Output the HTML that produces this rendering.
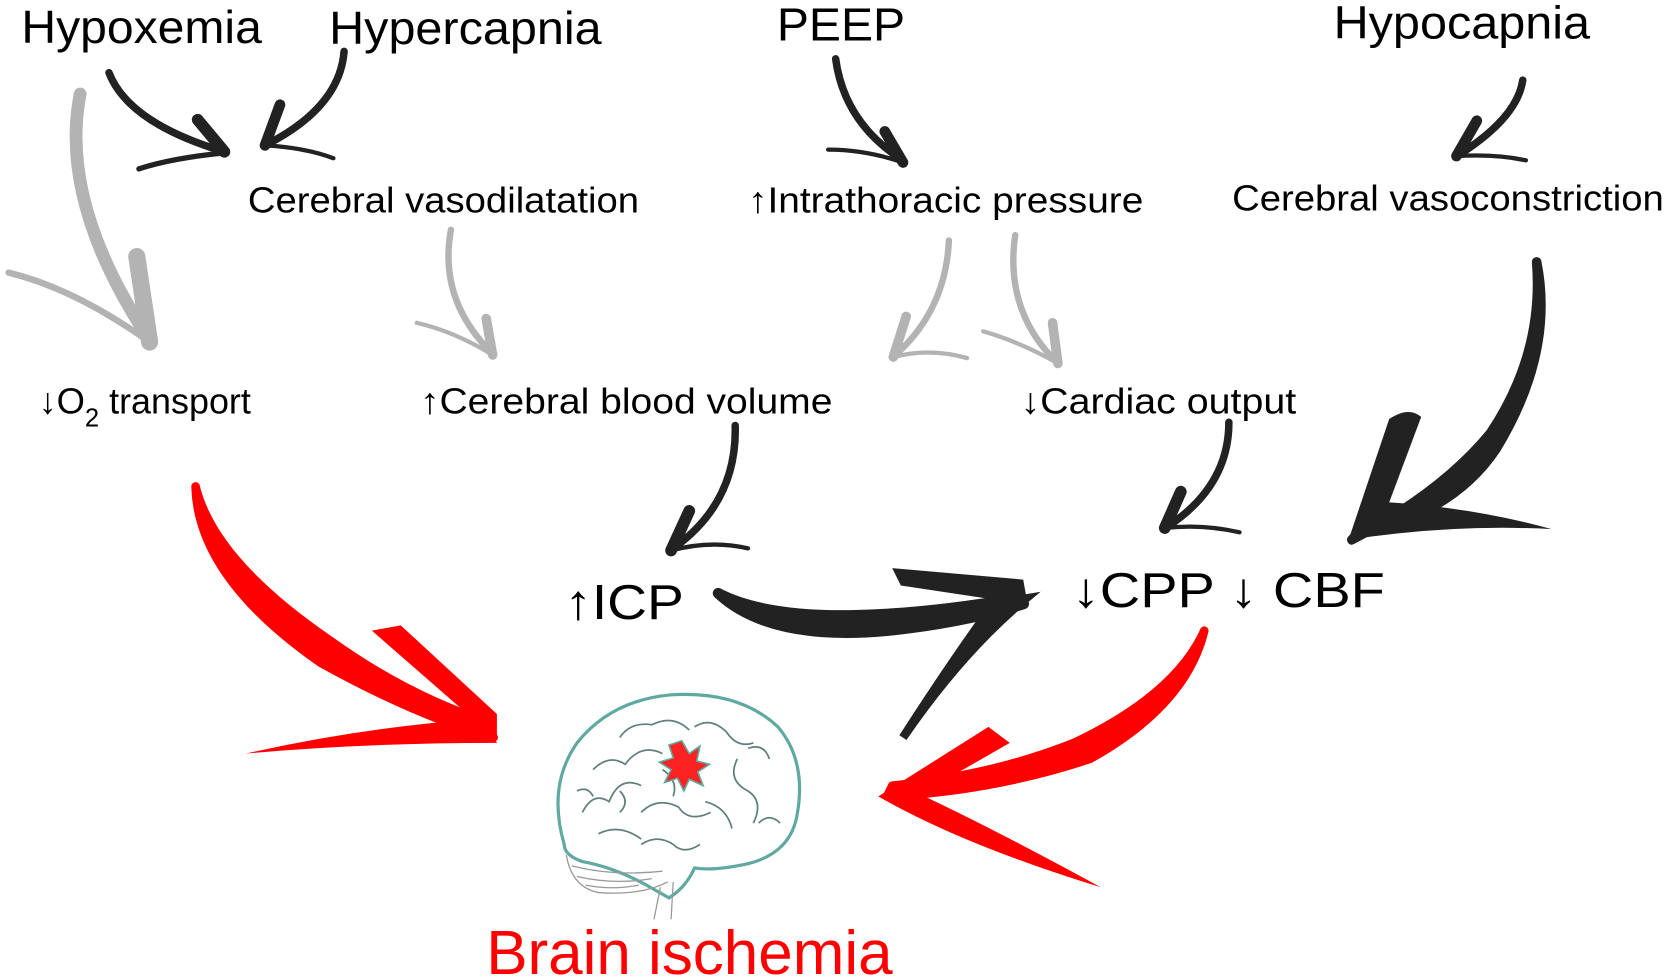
<!DOCTYPE html>
<html><head><meta charset="utf-8"><style>
html,body{margin:0;padding:0;background:#fff;}
svg{display:block}
text{font-family:"Liberation Sans",Arial,sans-serif;}
</style></head><body>
<svg width="1667" height="977" viewBox="0 0 1560 914" preserveAspectRatio="none" xmlns="http://www.w3.org/2000/svg">
<rect width="1560" height="914" fill="#fff"/>
<g fill="#000">
<text x="20" y="40" font-size="43" textLength="225" lengthAdjust="spacingAndGlyphs">Hypoxemia</text>
<text x="308" y="41" font-size="43" textLength="255" lengthAdjust="spacingAndGlyphs">Hypercapnia</text>
<text x="727" y="38" font-size="43" textLength="120" lengthAdjust="spacingAndGlyphs">PEEP</text>
<text x="1248" y="36" font-size="43" textLength="240" lengthAdjust="spacingAndGlyphs">Hypocapnia</text>
<text x="232" y="199" font-size="34" textLength="366" lengthAdjust="spacingAndGlyphs">Cerebral vasodilatation</text>
<text x="700" y="199" font-size="34" textLength="370" lengthAdjust="spacingAndGlyphs">↑Intrathoracic pressure</text>
<text x="1153" y="197" font-size="34" textLength="404" lengthAdjust="spacingAndGlyphs">Cerebral vasoconstriction</text>
<text x="36" y="387" font-size="34">↓O<tspan font-size="24" dy="12">2</tspan><tspan dy="-12" textLength="142" lengthAdjust="spacingAndGlyphs"> transport</tspan></text>
<text x="393" y="387" font-size="34" textLength="386" lengthAdjust="spacingAndGlyphs">↑Cerebral blood volume</text>
<text x="955" y="387" font-size="34" textLength="258" lengthAdjust="spacingAndGlyphs">↓Cardiac output</text>
<text x="528" y="579" font-size="46" textLength="112" lengthAdjust="spacingAndGlyphs">↑ICP</text>
<text x="1003" y="568" font-size="46" textLength="293" lengthAdjust="spacingAndGlyphs">↓CPP ↓ CBF</text>
</g>
<text x="455" y="911" font-size="58" fill="#f00">Brain ischemia</text>

<g fill="none" stroke="#222" stroke-linecap="round" stroke-linejoin="round">
<path d="M102 68 Q120 115 210 142" stroke-width="7"/>
<path d="M210 142 L185 112" stroke-width="11"/>
<path d="M210 143 Q160 148 130 158" stroke-width="5"/>
<path d="M322 48 Q318 100 250 135" stroke-width="7"/>
<path d="M248 136 L262 98" stroke-width="10"/>
<path d="M248 136 Q285 138 312 148" stroke-width="4"/>
<path d="M782 55 Q790 115 845 150" stroke-width="7"/>
<path d="M845 152 L828 123" stroke-width="10"/>
<path d="M845 152 Q810 140 775 140" stroke-width="4"/>
<path d="M1425 75 Q1420 110 1365 145" stroke-width="7"/>
<path d="M1363 146 L1382 113" stroke-width="10"/>
<path d="M1363 146 Q1400 144 1428 150" stroke-width="4"/>
<path d="M688 398 Q690 470 630 513" stroke-width="7"/>
<path d="M628 515 L645 478" stroke-width="11"/>
<path d="M628 515 Q665 505 700 513" stroke-width="4"/>
<path d="M1150 395 Q1150 455 1092 493" stroke-width="7"/>
<path d="M1090 494 L1105 460" stroke-width="11"/>
<path d="M1090 494 Q1125 490 1160 498" stroke-width="4"/>
</g>
<g fill="none" stroke="#b3b3b3" stroke-linecap="round">
<path d="M75 88 Q55 190 140 318" stroke-width="12"/>
<path d="M140 320 L128 240" stroke-width="16"/>
<path d="M140 320 Q70 270 8 255" stroke-width="6"/>
<path d="M422 215 Q410 280 460 330" stroke-width="6"/>
<path d="M461 332 L455 298" stroke-width="9"/>
<path d="M461 332 Q425 310 390 302" stroke-width="4"/>
<path d="M888 225 Q885 290 838 332" stroke-width="6"/>
<path d="M836 334 L848 296" stroke-width="9"/>
<path d="M836 334 Q870 325 905 335" stroke-width="4"/>
<path d="M950 220 Q940 290 988 338" stroke-width="6"/>
<path d="M990 340 L985 302" stroke-width="9"/>
<path d="M990 340 Q955 320 920 310" stroke-width="4"/>
</g>
<g fill="#222">
<path d="M1438 245 Q1455 330 1400 420 Q1360 480 1270 500 L1265 505 Q1350 460 1395 405 Q1445 330 1438 245Z" stroke="#222" stroke-width="9" stroke-linejoin="round"/>
<path d="M1262 505 L1300 392 Q1318 380 1330 390 L1300 470 Q1380 475 1452 495 Q1360 490 1262 505Z"/>
<path d="M672 555 Q720 600 830 590 Q900 583 958 565 L950 560 Q880 572 820 575 Q720 580 672 555Z" stroke="#222" stroke-width="10" stroke-linejoin="round"/>
<path d="M958 562 L845 545 L840 535 L955 545Z" stroke="#222" stroke-width="6"/>
<path d="M960 560 Q900 610 845 690 Q890 620 930 565Z" stroke="#222" stroke-width="8"/>
</g>
<g fill="#f00">
<path d="M183 455 Q185 540 300 620 Q390 670 462 690 L455 675 Q380 650 310 600 Q200 525 183 455Z" stroke="#f00" stroke-width="8" stroke-linejoin="round"/>
<path d="M465 692 L348 590 L375 585 L465 668Z"/>
<path d="M465 695 Q340 695 230 705 Q340 680 455 672Z"/>
<path d="M1127 590 Q1110 660 1020 710 Q930 740 830 745 L835 735 Q930 725 1005 695 Q1100 650 1127 590Z" stroke="#f00" stroke-width="8" stroke-linejoin="round"/>
<path d="M822 745 L925 680 L945 695 L840 755Z"/>
<path d="M822 745 Q900 790 1030 830 Q920 770 850 738Z"/>
</g>
<g fill="none" stroke="#5fa9a0" stroke-width="3">
<path d="M528 790 Q512 735 540 695 Q572 655 628 650 Q692 646 728 680 Q755 712 746 762 Q740 798 700 808 Q668 815 650 812 Q642 830 626 840 L612 832 Q578 812 545 806 Q528 800 528 790Z"/>
</g>
<g fill="none" stroke="#5e7f7c" stroke-width="1.6">
<path d="M545 760 q10 -20 25 -10 q10 -25 30 -15 M555 720 q15 -15 30 -5 q15 -20 35 -10 M580 690 q10 -15 30 -12 q20 -10 35 5 M650 680 q15 -10 30 5 q10 15 25 10 M690 710 q-10 20 10 30 q15 10 5 30 M660 750 q20 5 25 25 M600 760 q15 -15 35 -5 q10 15 30 5 M560 780 q20 -10 40 5 M710 770 q10 -10 20 0 M620 720 q15 10 10 25 M580 740 q10 10 0 20 M540 740 q10 -5 15 5 M700 700 q15 -5 20 10 M600 790 q15 -10 30 0 q10 10 25 0"/>
</g>
<g fill="none" stroke="#999" stroke-width="1.2">
<path d="M530 800 Q535 830 560 835 Q600 838 625 825 M535 810 q40 10 85 5 M540 820 q35 8 70 2 M548 828 q25 5 50 0"/>
<path d="M618 830 L612 860 M630 825 L628 860"/>
</g>
<path d="M638 693 L645 705 L655 698 L652 712 L664 715 L653 722 L658 735 L645 729 L640 740 L634 728 L622 732 L628 720 L617 713 L630 709 L626 697 Z" fill="#f22" stroke="#5fa9a0" stroke-width="1.5"/>
</svg>
</body></html>
